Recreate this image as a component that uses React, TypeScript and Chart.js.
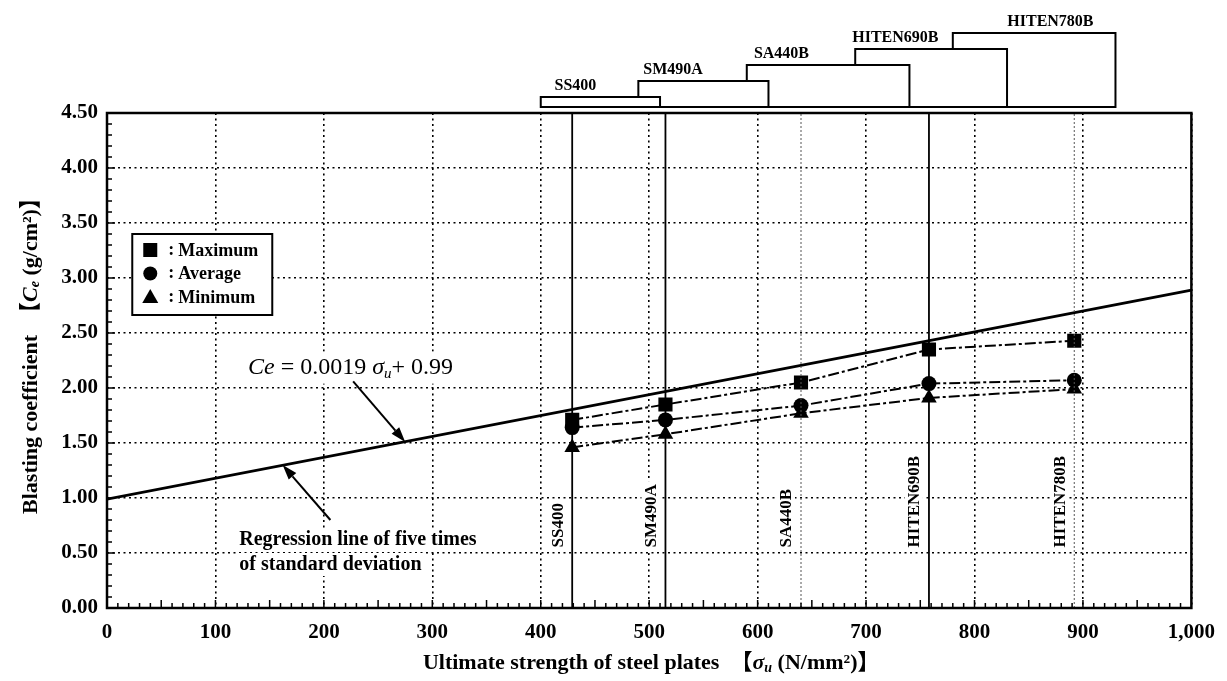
import React, { useEffect, useRef } from "react";
import { Chart, registerables } from "chart.js";

Chart.register(...registerables);

// ---------- data ----------
const grades = ["SS400", "SM490A", "SA440B", "HITEN690B", "HITEN780B"];
const strength = [429, 515, 640, 758, 892];
const maximum = [1.71, 1.85, 2.05, 2.35, 2.43];
const average = [1.64, 1.71, 1.84, 2.04, 2.07];
const minimum = [1.46, 1.58, 1.77, 1.91, 1.99];
const rangeLow = [400, 490, 590, 690, 780];
const rangeHigh = [510, 610, 740, 830, 930];
const regressionX = [0, 1000];
const regressionY = [0.99, 2.89];
const xTickValues = [0, 100, 200, 300, 400, 500, 600, 700, 800, 900, 1000];
const yTickValues = [0, 0.5, 1, 1.5, 2, 2.5, 3, 3.5, 4, 4.5];
const legendLabels = ["Maximum", "Average", "Minimum"];

const SERIF = '"Liberation Serif", "Times New Roman", "Noto Sans CJK JP", serif';
const font = (style: string, size: number) => `${style} ${size}px ${SERIF}`;

type Part = { text: string; font: string; dy?: number; w?: number };

function richWidth(ctx: CanvasRenderingContext2D, parts: Part[]) {
  let total = 0;
  parts.forEach((p) => {
    ctx.font = p.font;
    p.w = ctx.measureText(p.text).width;
    total += p.w;
  });
  return total;
}

function drawRich(ctx: CanvasRenderingContext2D, parts: Part[], x: number, y: number, align: "left" | "center") {
  const total = richWidth(ctx, parts);
  let cx = align === "center" ? x - total / 2 : x;
  ctx.textAlign = "left";
  ctx.textBaseline = "alphabetic";
  parts.forEach((p) => {
    ctx.font = p.font;
    ctx.fillText(p.text, cx, y + (p.dy || 0));
    cx += p.w || 0;
  });
}

function arrow(ctx: CanvasRenderingContext2D, x1: number, y1: number, x2: number, y2: number) {
  const ang = Math.atan2(y2 - y1, x2 - x1);
  const head = 15;
  const half = 5;
  const bx = x2 - head * Math.cos(ang);
  const by = y2 - head * Math.sin(ang);
  ctx.beginPath();
  ctx.moveTo(x1, y1);
  ctx.lineTo(bx, by);
  ctx.lineWidth = 2;
  ctx.stroke();
  ctx.beginPath();
  ctx.moveTo(x2, y2);
  ctx.lineTo(bx + half * Math.sin(ang), by - half * Math.cos(ang));
  ctx.lineTo(bx - half * Math.sin(ang), by + half * Math.cos(ang));
  ctx.closePath();
  ctx.fill();
}

function marker(ctx: CanvasRenderingContext2D, kind: number, cx: number, cy: number) {
  ctx.beginPath();
  if (kind === 0) {
    ctx.rect(cx - 7, cy - 7, 14, 14);
  } else if (kind === 1) {
    ctx.arc(cx, cy, 7, 0, Math.PI * 2);
  } else {
    ctx.moveTo(cx, cy - 8);
    ctx.lineTo(cx + 8, cy + 6);
    ctx.lineTo(cx - 8, cy + 6);
    ctx.closePath();
  }
  ctx.fill();
}

const decor = {
  id: "decor",
  beforeDatasetsDraw(chart: any) {
    const { ctx, scales } = chart;
    const x = scales.x;
    const y = scales.y;
    ctx.save();
    // rotated grade labels with white background
    ctx.font = font("bold", 17);
    grades.forEach((g, i) => {
      const px = x.getPixelForValue(strength[i]) - 15;
      const py = y.getPixelForValue(0.55);
      const w = ctx.measureText(g).width;
      ctx.fillStyle = "#fff";
      ctx.fillRect(px - 9, py - w - 3, 18, w + 6);
      ctx.save();
      ctx.translate(px, py);
      ctx.rotate(-Math.PI / 2);
      ctx.fillStyle = "#000";
      ctx.textAlign = "left";
      ctx.textBaseline = "middle";
      ctx.fillText(g, 0, 1);
      ctx.restore();
    });

    // equation
    const eq: Part[] = [
      { text: "Ce", font: font("italic", 24) },
      { text: " = 0.0019 ", font: font("normal", 24) },
      { text: "σ", font: font("italic", 24) },
      { text: "u", font: font("italic", 15), dy: 4 },
      { text: "+ 0.99", font: font("normal", 24) },
    ];
    const ex = x.getPixelForValue(130);
    const ey = y.getPixelForValue(2.13);
    const ew = richWidth(ctx, eq);
    ctx.fillStyle = "#fff";
    ctx.fillRect(ex - 4, ey - 22, ew + 8, 32);
    ctx.fillStyle = "#000";
    drawRich(ctx, eq, ex, ey, "left");

    // regression text
    ctx.font = font("bold", 20);
    const lines = ["Regression line of five times", "of standard deviation"];
    const tx = x.getPixelForValue(122);
    lines.forEach((t, k) => {
      const ty = y.getPixelForValue(0.6) + 3 + k * 25;
      const w = ctx.measureText(t).width;
      ctx.fillStyle = "#fff";
      ctx.fillRect(tx - 3, ty - 17, w + 6, 23);
      ctx.fillStyle = "#000";
      ctx.textAlign = "left";
      ctx.textBaseline = "alphabetic";
      ctx.fillText(t, tx, ty);
    });

    // arrows
    ctx.fillStyle = "#000";
    ctx.strokeStyle = "#000";
    arrow(ctx, x.getPixelForValue(227), y.getPixelForValue(2.06), x.getPixelForValue(275), y.getPixelForValue(1.51));
    arrow(ctx, x.getPixelForValue(206), y.getPixelForValue(0.8), x.getPixelForValue(162), y.getPixelForValue(1.3));
    ctx.restore();
  },
  afterDraw(chart: any) {
    const { ctx, chartArea: a, scales } = chart;
    const x = scales.x;
    const y = scales.y;
    ctx.save();
    ctx.fillStyle = "#000";
    ctx.strokeStyle = "#000";

    // minor ticks (inside)
    ctx.lineWidth = 1.5;
    ctx.beginPath();
    for (let v = 10; v < 1000; v += 10) {
      const px = x.getPixelForValue(v);
      const len = v % 50 === 0 ? 8 : 5;
      ctx.moveTo(px, a.bottom);
      ctx.lineTo(px, a.bottom - len);
    }
    for (let k = 1; k < 45; k++) {
      const py = y.getPixelForValue(k / 10);
      const len = k % 5 === 0 ? 8 : 5;
      ctx.moveTo(a.left, py);
      ctx.lineTo(a.left + len, py);
    }
    ctx.stroke();

    // frame
    ctx.lineWidth = 2.5;
    ctx.strokeRect(a.left, a.top, a.right - a.left, a.bottom - a.top);

    // legend
    const lx = x.getPixelForValue(23.3);
    const ly = a.top + 121;
    ctx.fillStyle = "#fff";
    ctx.fillRect(lx, ly, 140, 81);
    ctx.lineWidth = 2;
    ctx.strokeRect(lx, ly, 140, 81);
    ctx.fillStyle = "#000";
    legendLabels.forEach((lab, k) => {
      const cy = ly + 16 + k * 23.5;
      marker(ctx, k, lx + 18, cy);
      ctx.font = font("bold", 18);
      ctx.textAlign = "left";
      ctx.textBaseline = "middle";
      ctx.fillText(":", lx + 36, cy);
      ctx.fillText(lab, lx + 46, cy + 1);
    });

    // strength-range boxes above the plot
    const labelAt = [432, 522, 622, 727, 870];
    for (let i = grades.length - 1; i >= 0; i--) {
      const x0 = x.getPixelForValue(rangeLow[i]);
      const x1 = x.getPixelForValue(rangeHigh[i]);
      const bottom = a.top - 6;
      const top = bottom - 10 - 16 * i;
      ctx.fillStyle = "#fff";
      ctx.fillRect(x0, top, x1 - x0, bottom - top);
      ctx.lineWidth = 2;
      ctx.strokeRect(x0, top, x1 - x0, bottom - top);
    }
    ctx.fillStyle = "#000";
    ctx.font = font("bold", 16);
    ctx.textAlign = "center";
    ctx.textBaseline = "alphabetic";
    grades.forEach((g, i) => {
      const bottom = a.top - 6;
      const top = bottom - 10 - 16 * i;
      ctx.fillText(g, x.getPixelForValue(labelAt[i]), top - 7);
    });

    // axis titles
    const xt: Part[] = [
      { text: "Ultimate strength of steel plates  【", font: font("bold", 22) },
      { text: "σ", font: font("italic bold", 22) },
      { text: "u", font: font("italic bold", 14), dy: 3 },
      { text: " (N/mm²)】", font: font("bold", 22) },
    ];
    drawRich(ctx, xt, (a.left + a.right) / 2 + 2, 669, "center");

    const yt: Part[] = [
      { text: "Blasting coefficient  【", font: font("bold", 22) },
      { text: "C", font: font("italic bold", 22) },
      { text: "e", font: font("italic bold", 14), dy: 2 },
      { text: " (g/cm²)】", font: font("bold", 22) },
    ];
    ctx.save();
    ctx.translate(37, (a.top + a.bottom) / 2 - 10);
    ctx.rotate(-Math.PI / 2);
    drawRich(ctx, yt, 0, 0, "center");
    ctx.restore();

    ctx.restore();
  },
};

export default function App() {
  const ref = useRef<HTMLCanvasElement>(null);

  useEffect(() => {
    const canvas = ref.current;
    if (!canvas) return;
    document.body.style.margin = "0";
    document.body.style.overflow = "hidden";

    const toXY = (xs: number[], ys: number[]) => xs.map((v, i) => ({ x: v, y: ys[i] }));
    const solid = new Set(["SS400", "SM490A", "HITEN690B"]);

    const guides = grades.map((g, i) => ({
      label: g,
      data: [
        { x: strength[i], y: 0 },
        { x: strength[i], y: 4.5 },
      ],
      showLine: true,
      pointRadius: 0,
      borderColor: solid.has(g) ? "#000" : "#555",
      borderWidth: solid.has(g) ? 1.8 : 1,
      borderDash: solid.has(g) ? [] : [2, 2],
    }));

    const series = (label: string, ys: number[], style: string, r: number) => ({
      label,
      data: toXY(strength, ys),
      showLine: true,
      borderColor: "#000",
      borderWidth: 2,
      borderDash: [11, 3, 3, 3],
      pointStyle: style,
      pointRadius: r,
      pointBackgroundColor: "#000",
      pointBorderColor: "#000",
      pointBorderWidth: 0,
    });

    const axisFont = { family: SERIF, size: 21, weight: "bold" as const };

    const chart = new Chart(canvas, {
      type: "scatter",
      data: {
        datasets: [
          ...guides,
          {
            label: "Regression",
            data: toXY(regressionX, regressionY),
            showLine: true,
            pointRadius: 0,
            borderColor: "#000",
            borderWidth: 2.8,
          },
          series("Maximum", maximum, "rect", 10),
          series("Average", average, "circle", 7.5),
          series("Minimum", minimum, "triangle", 9),
        ] as any,
      },
      options: {
        animation: false,
        responsive: false,
        devicePixelRatio: 1,
        layout: { padding: { top: 113, right: 35, left: 0, bottom: 0 } },
        plugins: { legend: { display: false }, tooltip: { enabled: false } },
        scales: {
          x: {
            type: "linear",
            min: 0,
            max: 1000,
            afterBuildTicks: (s: any) => {
              s.ticks = xTickValues.map((v) => ({ value: v }));
            },
            afterFit: (s: any) => {
              s.height = 73;
            },
            ticks: {
              color: "#000",
              font: axisFont,
              maxRotation: 0,
              autoSkip: false,
              padding: 12,
              callback: (v: any) => Number(v).toLocaleString("en-US"),
            },
            grid: { color: "#000", lineWidth: 1.6, drawTicks: false, borderDash: [2, 3.5] } as any,
            border: { display: false, dash: [2, 3.5] },
          },
          y: {
            type: "linear",
            min: 0,
            max: 4.5,
            afterBuildTicks: (s: any) => {
              s.ticks = yTickValues.map((v) => ({ value: v }));
            },
            afterFit: (s: any) => {
              s.width = 107;
            },
            ticks: {
              color: "#000",
              font: axisFont,
              autoSkip: false,
              padding: 9,
              callback: (v: any) => Number(v).toFixed(2),
            },
            grid: { color: "#000", lineWidth: 1.6, drawTicks: false, borderDash: [2, 3.5] } as any,
            border: { display: false, dash: [2, 3.5] },
          },
        },
      },
      plugins: [decor],
    });

    return () => chart.destroy();
  }, []);

  return (
    <canvas
      ref={ref}
      width={1227}
      height={681}
      style={{ position: "fixed", left: 0, top: 0, width: 1227, height: 681, background: "#fff" }}
    />
  );
}
